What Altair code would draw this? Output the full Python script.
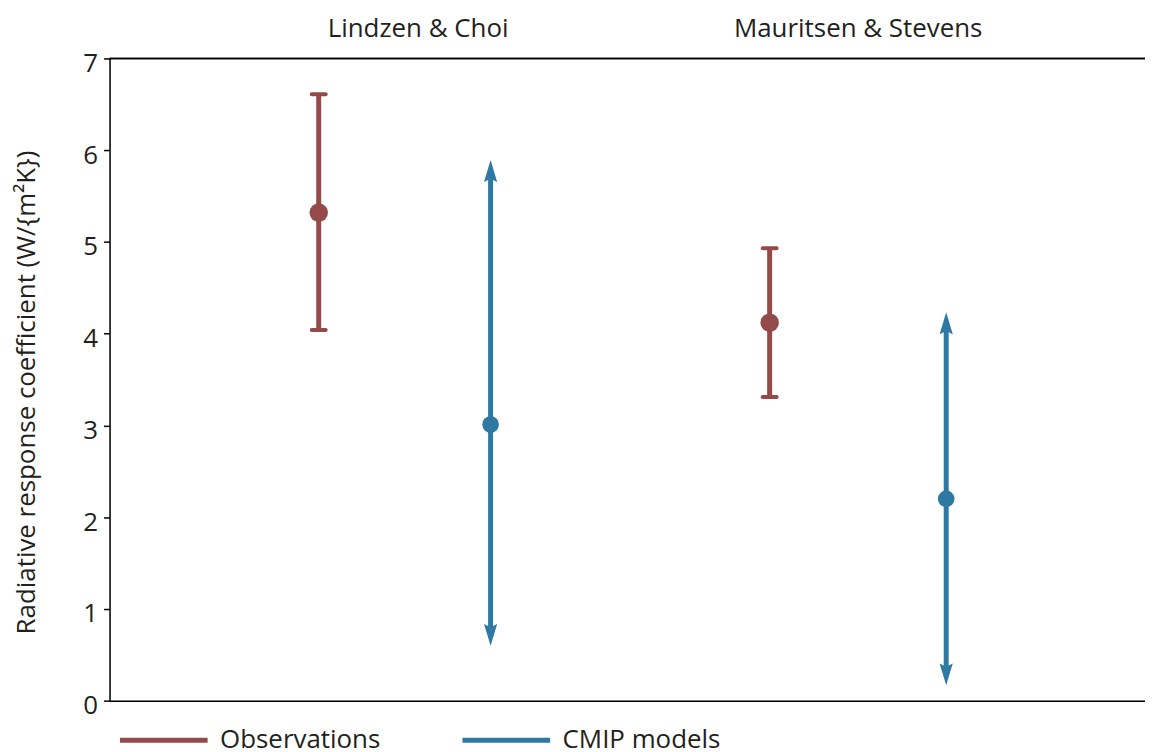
import altair as alt
import pandas as pd

FONT = "Open Sans"
TEXT_COLOR = "#231f20"

# Observations (Lindzen & Choi, Mauritsen & Stevens)
obs_x = [2.02, 6.375]
obs_center = [5.32, 4.12]
obs_low = [4.04, 3.31]
obs_high = [6.61, 4.93]

# CMIP models
cmip_x = [3.68, 8.08]
cmip_center = [3.01, 2.20]
cmip_low = [0.80, 0.37]
cmip_high = [5.69, 4.03]

# Group titles
group_names = ["Lindzen & Choi", "Mauritsen & Stevens"]
group_x = [2.98, 7.23]

series = ["Observations", "CMIP models"]
colors = ["#934a49", "#2e78a4"]

obs = pd.DataFrame({"x": obs_x, "c": obs_center, "lo": obs_low, "hi": obs_high,
                    "series": series[0]})
cmip = pd.DataFrame({"x": cmip_x, "c": cmip_center, "lo": cmip_low, "hi": cmip_high,
                     "series": series[1]})
both = pd.concat([obs, cmip], ignore_index=True)
titles = pd.DataFrame({"x": group_x, "name": group_names, "y": [7, 7]})

xscale = alt.Scale(domain=[0, 10], nice=False, zero=False)
yscale = alt.Scale(domain=[0, 7], nice=False)
cscale = alt.Scale(domain=series, range=colors)

X = alt.X("x:Q", scale=xscale,
          axis=alt.Axis(labels=False, ticks=False, grid=False, title=None,
                        domainColor="black", domainWidth=1.5))
Y_AX = alt.Axis(values=list(range(8)), format="d", grid=False, tickSize=6, tickWidth=1.5,
                tickColor="black", domainColor="black", domainWidth=1.5,
                labelFontSize=26, labelFont=FONT, labelColor=TEXT_COLOR,
                labelPadding=6, labelOffset=5,
                title="Radiative response coefficient (W/{m\u00b2K})",
                titleFontSize=26, titleFont=FONT, titleColor=TEXT_COLOR,
                titleFontWeight="normal", titleAngle=270, titleX=-83, titleY=335,
                titleAlign="center", titleBaseline="middle", titleLimit=700)

base = alt.Chart(both)

bars = base.mark_rule(strokeWidth=5).encode(
    x=X,
    y=alt.Y("lo:Q", scale=yscale, axis=Y_AX),
    y2="hi:Q",
    color=alt.Color("series:N", scale=cscale,
                    legend=alt.Legend(title=None, orient="none", legendX=8, legendY=638,
                                      direction="horizontal", symbolType="stroke",
                                      symbolSize=7744, symbolStrokeWidth=5,
                                      labelFontSize=26, labelFont=FONT,
                                      labelColor=TEXT_COLOR, labelOffset=10,
                                      labelLimit=400, columnPadding=72, padding=0)),
)

points = alt.Chart(obs).mark_circle(size=346, opacity=1).encode(
    x="x:Q", y="c:Q", color=alt.Color("series:N", scale=cscale, legend=None))
points2 = alt.Chart(cmip).mark_circle(size=280, opacity=1).encode(
    x="x:Q", y="c:Q", color=alt.Color("series:N", scale=cscale, legend=None))

caps_lo = alt.Chart(obs).mark_tick(orient="horizontal", size=18, thickness=4,
                                   cornerRadius=2, opacity=1).encode(
    x="x:Q", y="lo:Q", color=alt.Color("series:N", scale=cscale, legend=None))
caps_hi = alt.Chart(obs).mark_tick(orient="horizontal", size=18, thickness=4,
                                   cornerRadius=2, opacity=1).encode(
    x="x:Q", y="hi:Q", color=alt.Color("series:N", scale=cscale, legend=None))

UP = "M0,-0.85 L0.3,0.15 L0,0 L-0.3,0.15 Z"
DOWN = "M0,0.85 L0.3,-0.15 L0,0 L-0.3,-0.15 Z"
arrow_up = alt.Chart(cmip).mark_point(shape=UP, size=1936, filled=True, opacity=1,
                                      strokeWidth=0).encode(
    x="x:Q", y="hi:Q", color=alt.Color("series:N", scale=cscale, legend=None))
arrow_dn = alt.Chart(cmip).mark_point(shape=DOWN, size=1936, filled=True, opacity=1,
                                      strokeWidth=0).encode(
    x="x:Q", y="lo:Q", color=alt.Color("series:N", scale=cscale, legend=None))

top_line = alt.Chart(titles).mark_rule(color="black", strokeWidth=1.5).encode(
    y=alt.value(0))

group_text = alt.Chart(titles).mark_text(fontSize=26, font=FONT, color=TEXT_COLOR,
                                         dy=-30, clip=False, baseline="middle",
                                         align="center").encode(
    x="x:Q", y="y:Q", text="name:N")

chart = alt.layer(top_line, bars, caps_lo, caps_hi, arrow_up, arrow_dn, points, points2,
                  group_text).properties(
    width=1040, height=645,
    autosize=alt.AutoSizeParams(type="none"),
    padding={"left": 102, "top": 49, "right": 0, "bottom": 70},
).configure_view(stroke=None).configure(background="white")

chart.save("out.html", embed_options={"renderer": "svg", "actions": False})
